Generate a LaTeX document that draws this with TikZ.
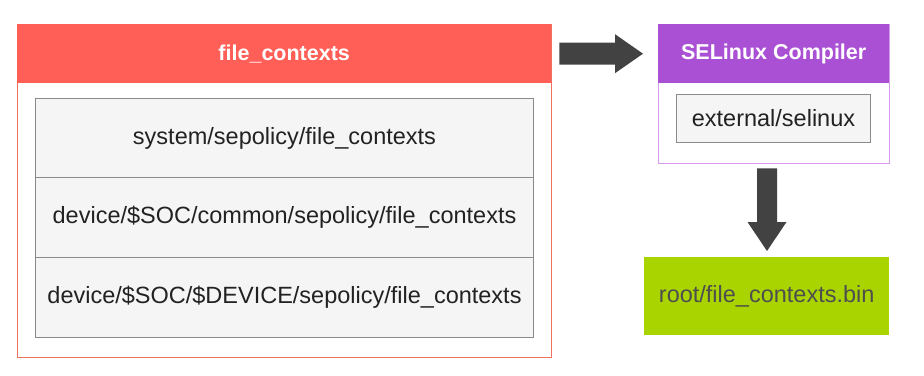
\documentclass[tikz,border=0pt]{standalone}
\usepackage{fontspec}
\setmainfont{Liberation Sans}
\usetikzlibrary{positioning}
\definecolor{redh}{HTML}{FF5F57}
\definecolor{redb}{HTML}{F2705F}
\definecolor{purh}{HTML}{AA50D4}
\definecolor{purb}{HTML}{D79CF0}
\definecolor{grn}{HTML}{AAD400}
\definecolor{cellf}{HTML}{F5F5F5}
\definecolor{cellb}{HTML}{8A8A8A}
\definecolor{arr}{HTML}{424242}
\definecolor{txt}{HTML}{222222}
\tikzset{
  box/.style={draw, line width=1.3pt, inner sep=0pt, anchor=north west},
  header/.style={inner sep=0pt, anchor=north west, text=white, font=\fontsize{21.5}{24}\selectfont\bfseries},
  cell/.style={draw=cellb, fill=cellf, line width=1pt, inner sep=0pt, anchor=north west, text=txt, font=\fontsize{23.5}{26}\selectfont},
  bigarrow/.style={fill=arr, draw=none},
}
\begin{document}
\begin{tikzpicture}[x=1pt,y=-1pt]
\useasboundingbox (0,0) rectangle (924,375);
% left container
\node[box, draw=redb, minimum width=534pt, minimum height=333pt] (fc) at (17,24) {};
\node[header, fill=redh, minimum width=534pt, minimum height=59pt] (fch) at (17,24) {file\_contexts};
\node[cell, minimum width=498pt, minimum height=80pt] (c1) at (35,98) {system/sepolicy/file\_contexts};
\node[cell, minimum width=498pt, minimum height=80pt] (c2) at (35,177) {device/\$SOC/common/sepolicy/file\_contexts};
\node[cell, minimum width=498pt, minimum height=80pt] (c3) at (35,257) {device/\$SOC/\$DEVICE/sepolicy/file\_contexts};
% compiler
\node[box, draw=purb, minimum width=231pt, minimum height=139pt] (sc) at (658,24) {};
\node[header, fill=purh, minimum width=231pt, minimum height=59pt] (sch) at (658,24) {SELinux Compiler};
\node[cell, minimum width=194pt, minimum height=48pt] (ext) at (676,94) {external/selinux};
% output
\node[inner sep=0pt, anchor=north west, fill=grn, minimum width=245pt, minimum height=78pt, text=txt!80, font=\fontsize{23.5}{26}\selectfont] (bin) at (644,257) {root/file\_contexts.bin};
% arrows
\coordinate (a1s) at ([xshift=7pt]fc.east |- fch.east);
\coordinate (a1e) at ([xshift=-15pt]sch.west);
\fill[bigarrow] ([yshift=-11pt]a1s) -- ([xshift=-28pt,yshift=-11pt]a1e) -- ([xshift=-28pt,yshift=-19.5pt]a1e) -- (a1e) -- ([xshift=-28pt,yshift=19.5pt]a1e) -- ([xshift=-28pt,yshift=11pt]a1e) -- ([yshift=11pt]a1s) -- cycle;
\coordinate (a2s) at ([yshift=-4pt]sc.south -| 767,0);
\coordinate (a2e) at ([yshift=6pt]bin.north -| 767,0);
\fill[bigarrow] ([xshift=-10pt]a2s) -- ([xshift=-10pt,yshift=29pt]a2e) -- ([xshift=-19.5pt,yshift=29pt]a2e) -- (a2e) -- ([xshift=19.5pt,yshift=29pt]a2e) -- ([xshift=10pt,yshift=29pt]a2e) -- ([xshift=10pt]a2s) -- cycle;
\end{tikzpicture}
\end{document}
